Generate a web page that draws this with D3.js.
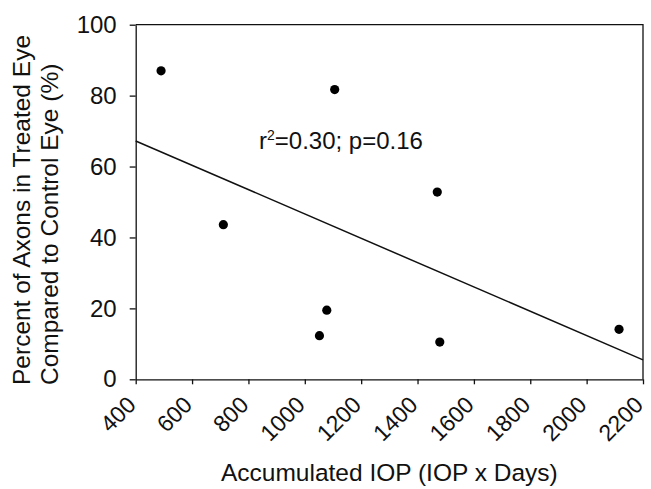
<!DOCTYPE html>
<html>
<head>
<meta charset="utf-8">
<script src="https://cdn.jsdelivr.net/npm/d3@7"></script>
<style>
  html, body { margin: 0; padding: 0; background: #fff; }
  svg { display: block; }
  text { font-family: "Liberation Sans", Arial, sans-serif; fill: #111; }
</style>
</head>
<body>
<svg id="chart" width="651" height="489"></svg>
<script>
// Accumulated IOP per animal and the surviving axon fraction
const iop = [490, 711, 1052, 1078, 1106, 1470, 1479, 2115];
const axonPct = [87.0, 43.6, 12.3, 19.5, 81.7, 52.8, 10.5, 14.1];

const xTicks = [400, 600, 800, 1000, 1200, 1400, 1600, 1800, 2000, 2200];
const yTicks = [0, 20, 40, 60, 80, 100];
const xDomain = [400, 2200];
const yDomain = [0, 100];

const statsLabel = { base: "r", sup: "2", rest: "=0.30; p=0.16" };
const xTitle = "Accumulated IOP (IOP x Days)";
const yTitle = ["Percent of Axons in Treated Eye", "Compared to Control Eye (%)"];

const svg = d3.select("#chart");
const plot = { left: 135.7, right: 643, top: 24.7, bottom: 379.3 };

const x = d3.scaleLinear().domain(xDomain).range([plot.left, plot.right]);
const y = d3.scaleLinear().domain(yDomain).range([plot.bottom, plot.top]);

// Least-squares fit across the points
const mx = d3.mean(iop), my = d3.mean(axonPct);
let sxy = 0, sxx = 0;
iop.forEach((v, i) => { sxy += (v - mx) * (axonPct[i] - my); sxx += (v - mx) * (v - mx); });
const slope = sxy / sxx;
const intercept = my - slope * mx;
const fit = xDomain.map(v => [v, intercept + slope * v]);

// Frame: top and right borders
svg.append("path")
  .attr("d", `M${plot.left},${plot.top}H${plot.right}V${plot.bottom}`)
  .attr("fill", "none").attr("stroke", "#111").attr("stroke-width", 1.3);

// Y axis
const yAxis = svg.append("g")
  .attr("transform", `translate(${plot.left},0)`)
  .call(d3.axisLeft(y).tickValues(yTicks).tickSize(6).tickPadding(13).tickSizeOuter(0).tickFormat(d3.format("d")));
yAxis.select(".domain").attr("stroke", "#111").attr("stroke-width", 1.3);
yAxis.selectAll(".tick line").attr("stroke", "#111").attr("stroke-width", 1.3);
yAxis.selectAll(".tick text").attr("font-size", 24).attr("font-family", "Liberation Sans, Arial, sans-serif").attr("fill", "#111");

// X axis with diagonal labels
const xAxis = svg.append("g")
  .attr("transform", `translate(0,${plot.bottom})`)
  .call(d3.axisBottom(x).tickValues(xTicks).tickSize(5).tickSizeOuter(0).tickFormat(d3.format("d")));
xAxis.select(".domain").attr("stroke", "#111").attr("stroke-width", 1.3);
xAxis.selectAll(".tick line").attr("stroke", "#111").attr("stroke-width", 1.3);
xAxis.selectAll(".tick text")
  .attr("font-size", 23)
  .attr("font-family", "Liberation Sans, Arial, sans-serif")
  .attr("fill", "#111")
  .attr("text-anchor", "end")
  .attr("y", null).attr("dy", null)
  .attr("transform", "translate(1,27) rotate(-45)");

// Regression line
svg.append("path")
  .datum(fit)
  .attr("d", d3.line().x(d => x(d[0])).y(d => y(d[1])))
  .attr("fill", "none").attr("stroke", "#111").attr("stroke-width", 1.5);

// Data points
svg.append("g").selectAll("circle")
  .data(iop.map((v, i) => [v, axonPct[i]]))
  .join("circle")
  .attr("cx", d => x(d[0]))
  .attr("cy", d => y(d[1]))
  .attr("r", 4.6)
  .attr("fill", "#000");

// Fit statistics
const stat = svg.append("text").attr("x", 259).attr("y", 149.3).attr("font-size", 24);
stat.append("tspan").text(statsLabel.base);
stat.append("tspan").attr("font-size", 14).attr("dy", -9).text(statsLabel.sup);
stat.append("tspan").attr("dy", 9).text(statsLabel.rest);

// Axis titles
svg.append("text")
  .attr("x", (plot.left + plot.right) / 2)
  .attr("y", 481)
  .attr("text-anchor", "middle")
  .attr("font-size", 24.5)
  .text(xTitle);

svg.append("g")
  .selectAll("text")
  .data(yTitle)
  .join("text")
  .attr("transform", (d, i) => `translate(${30 + i * 28},385) rotate(-90)`)
  .attr("text-anchor", "start")
  .attr("font-size", 24.5)
  .text(d => d);
</script>
</body>
</html>
